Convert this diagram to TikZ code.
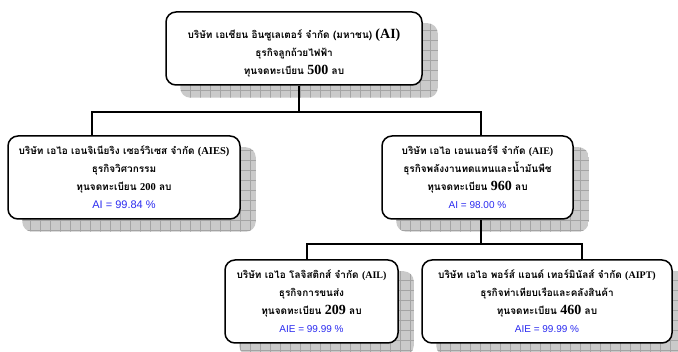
\documentclass[tikz,border=0pt]{standalone}
\usepackage{fontspec}
\usetikzlibrary{backgrounds,calc}
\newfontfamily\thf[Script=Thai]{Loma}
\newfontfamily\tnr{Liberation Serif}
\newfontfamily\ari{Liberation Sans}
\definecolor{pctblue}{HTML}{2B2BF0}
\definecolor{shadowgray}{HTML}{CACACA}
\definecolor{gridgray}{HTML}{A4A4A4}
\newcommand{\tx}[1]{{\thf\bfseries #1}}
\newcommand{\nb}[2]{{\tnr\bfseries\fontsize{#1}{#1}\selectfont #2}}
\newcommand{\pct}[2]{{\ari\fontsize{#1}{#1}\selectfont\color{pctblue}#2}}
\tikzset{
  orgbox/.style={draw=black, line width=1.5pt, fill=white, rounded corners=10pt,
    align=center, inner sep=0pt, font=\fontsize{10pt}{18pt}\selectfont},
  link/.style={draw=black, line width=1.3pt}
}
\newcommand{\shadowof}[1]{%
  \begin{scope}
    \clip[rounded corners=10pt] ($(#1.south west)+(15,12)$) rectangle ($(#1.north east)+(15,12)$);
    \fill[shadowgray] ($(#1.south west)+(15,12)$) rectangle ($(#1.north east)+(15,12)$);
    \draw[gridgray, line width=0.45pt, step=10pt] ($(#1.south west)+(15,12)$) grid ($(#1.north east)+(15,12)$);
  \end{scope}}
\begin{document}
\begin{tikzpicture}[x=1pt,y=-1pt]
\useasboundingbox (0,0) rectangle (678,352);
\node[orgbox, minimum width=256pt, minimum height=73pt, text depth=0pt] (ai) at (294,48.5)
  {\rule{0pt}{17pt}\tx{บริษัท เอเชียน อินซูเลเตอร์ จำกัด (มหาชน)} \nb{14pt}{(AI)}\\
   \tx{ธุรกิจลูกถ้วยไฟฟ้า}\\
   \tx{ทุนจดทะเบียน} \nb{14pt}{500} \tx{ลบ}};
\node[orgbox, minimum width=232pt, minimum height=83pt] (aies) at (124,177.5)
  {\tx{บริษัท เอไอ เอนจิเนียริง เซอร์วิเซส จำกัด} \nb{10.5pt}{(AIES)}\\
   \tx{ธุรกิจวิศวกรรม}\\
   \tx{ทุนจดทะเบียน} \nb{10.5pt}{200} \tx{ลบ}\\
   \pct{11pt}{AI = 99.84 \%}};
\node[orgbox, minimum width=191pt, minimum height=83pt] (aie) at (477.5,177.5)
  {\tx{บริษัท เอไอ เอนเนอร์จี จำกัด} \nb{10pt}{(AIE)}\\
   \tx{ธุรกิจพลังงานทดแทนและน้ำมันพืช}\\
   \tx{ทุนจดทะเบียน} \nb{14pt}{960} \tx{ลบ}\\
   \pct{10pt}{AI = 98.00 \%}};
\node[orgbox, minimum width=173pt, minimum height=83pt] (ail) at (311.5,301.5)
  {\tx{บริษัท เอไอ โลจิสติกส์ จำกัด} \nb{10pt}{(AIL)}\\
   \tx{ธุรกิจการขนส่ง}\\
   \tx{ทุนจดทะเบียน} \nb{14pt}{209} \tx{ลบ}\\
   \pct{10pt}{AIE = 99.99 \%}};
\node[orgbox, minimum width=250pt, minimum height=83pt] (aipt) at (547,301.5)
  {\tx{บริษัท เอไอ พอร์ส์ แอนด์ เทอร์มินัลส์ จำกัด} \nb{10pt}{(AIPT)}\\
   \tx{ธุรกิจท่าเทียบเรือและคลังสินค้า}\\
   \tx{ทุนจดทะเบียน} \nb{14pt}{460} \tx{ลบ}\\
   \pct{10pt}{AIE = 99.99 \%}};
\begin{scope}[on background layer]
  \shadowof{ai}\shadowof{aies}\shadowof{aie}\shadowof{ail}\shadowof{aipt}
\end{scope}
\coordinate (jt) at (299,112);
\coordinate (jl) at (92,112);
\coordinate (jr) at (481,112);
\coordinate (kt) at (481,244);
\coordinate (kl) at (307,244);
\coordinate (kr) at (582,244);
\draw[link] (ai.south -| jt) -- (jt);
\draw[link] (aies.north -| jl) |- (jr) -- (aie.north -| jr);
\draw[link] (aie.south -| kt) -- (kt);
\draw[link] (ail.north -| kl) |- (kr) -- (aipt.north -| kr);
\end{tikzpicture}
\end{document}
